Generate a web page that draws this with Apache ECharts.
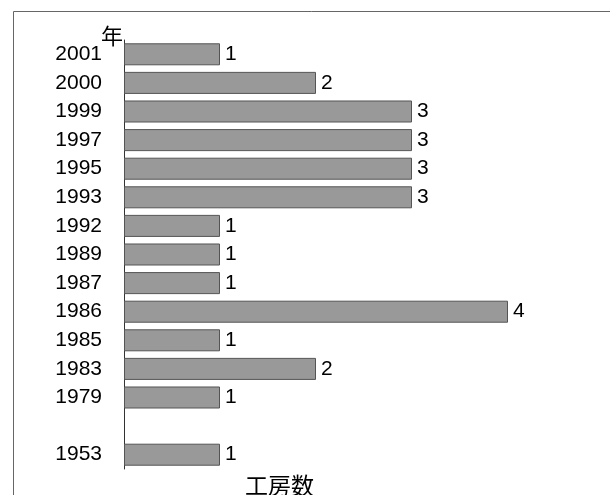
<!DOCTYPE html>
<html><head><meta charset="utf-8">
<script src="https://cdn.jsdelivr.net/npm/echarts@6/dist/echarts.min.js"></script>
<style>html,body{margin:0;padding:0;background:#fff;}#c{width:610px;height:495px;}</style>
</head><body><div id="c"></div>
<script>
var years = ['2001','2000','1999','1997','1995','1993','1992','1989','1987','1986','1985','1983','1979','','1953'];
var counts = [1,2,3,3,3,3,1,1,1,4,1,2,1,null,1];
var yAxisName = '年';
var xAxisName = '工房数';
var FONT = '"Liberation Sans", "Noto Sans CJK JP", sans-serif';
var chart = echarts.init(document.getElementById('c'), null, {renderer:'canvas'});
chart.setOption({
  backgroundColor: '#ffffff',
  animation: false,
  grid: {left: 124, top: 40, width: 480, height: 429},
  xAxis: {type: 'value', min: 0, max: 5, show: false},
  yAxis: {
    type: 'category', data: years, inverse: true,
    axisLine: {show: true, lineStyle: {color: '#333', width: 1}},
    axisTick: {show: false},
    axisLabel: {color: '#000', fontSize: 21, fontFamily: FONT, margin: 22, padding: [3, 0, 0, 0]}
  },
  series: [{
    type: 'bar', data: counts, barCategoryGap: '23%',
    itemStyle: {color: '#999999', borderColor: '#555', borderWidth: 1},
    label: {show: true, position: 'right', distance: 5, color: '#000', fontSize: 21, fontFamily: FONT, padding: [3, 0, 0, 0]}
  }],
  graphic: [
    {type: 'line', shape: {x1: 13.5, y1: 11.5, x2: 610, y2: 11.5}, style: {stroke: '#666', lineWidth: 1}},
    {type: 'line', shape: {x1: 13.5, y1: 11.5, x2: 13.5, y2: 495}, style: {stroke: '#666', lineWidth: 1}},
    {type: 'text', left: 101, top: 25, style: {text: yAxisName, fontSize: 22, fontFamily: '"Noto Sans CJK JP", sans-serif', fill: '#000'}},
    {type: 'text', left: 245, top: 474, style: {text: xAxisName, fontSize: 23, fontFamily: '"Noto Sans CJK JP", sans-serif', fill: '#000'}}
  ]
});
</script></body></html>
